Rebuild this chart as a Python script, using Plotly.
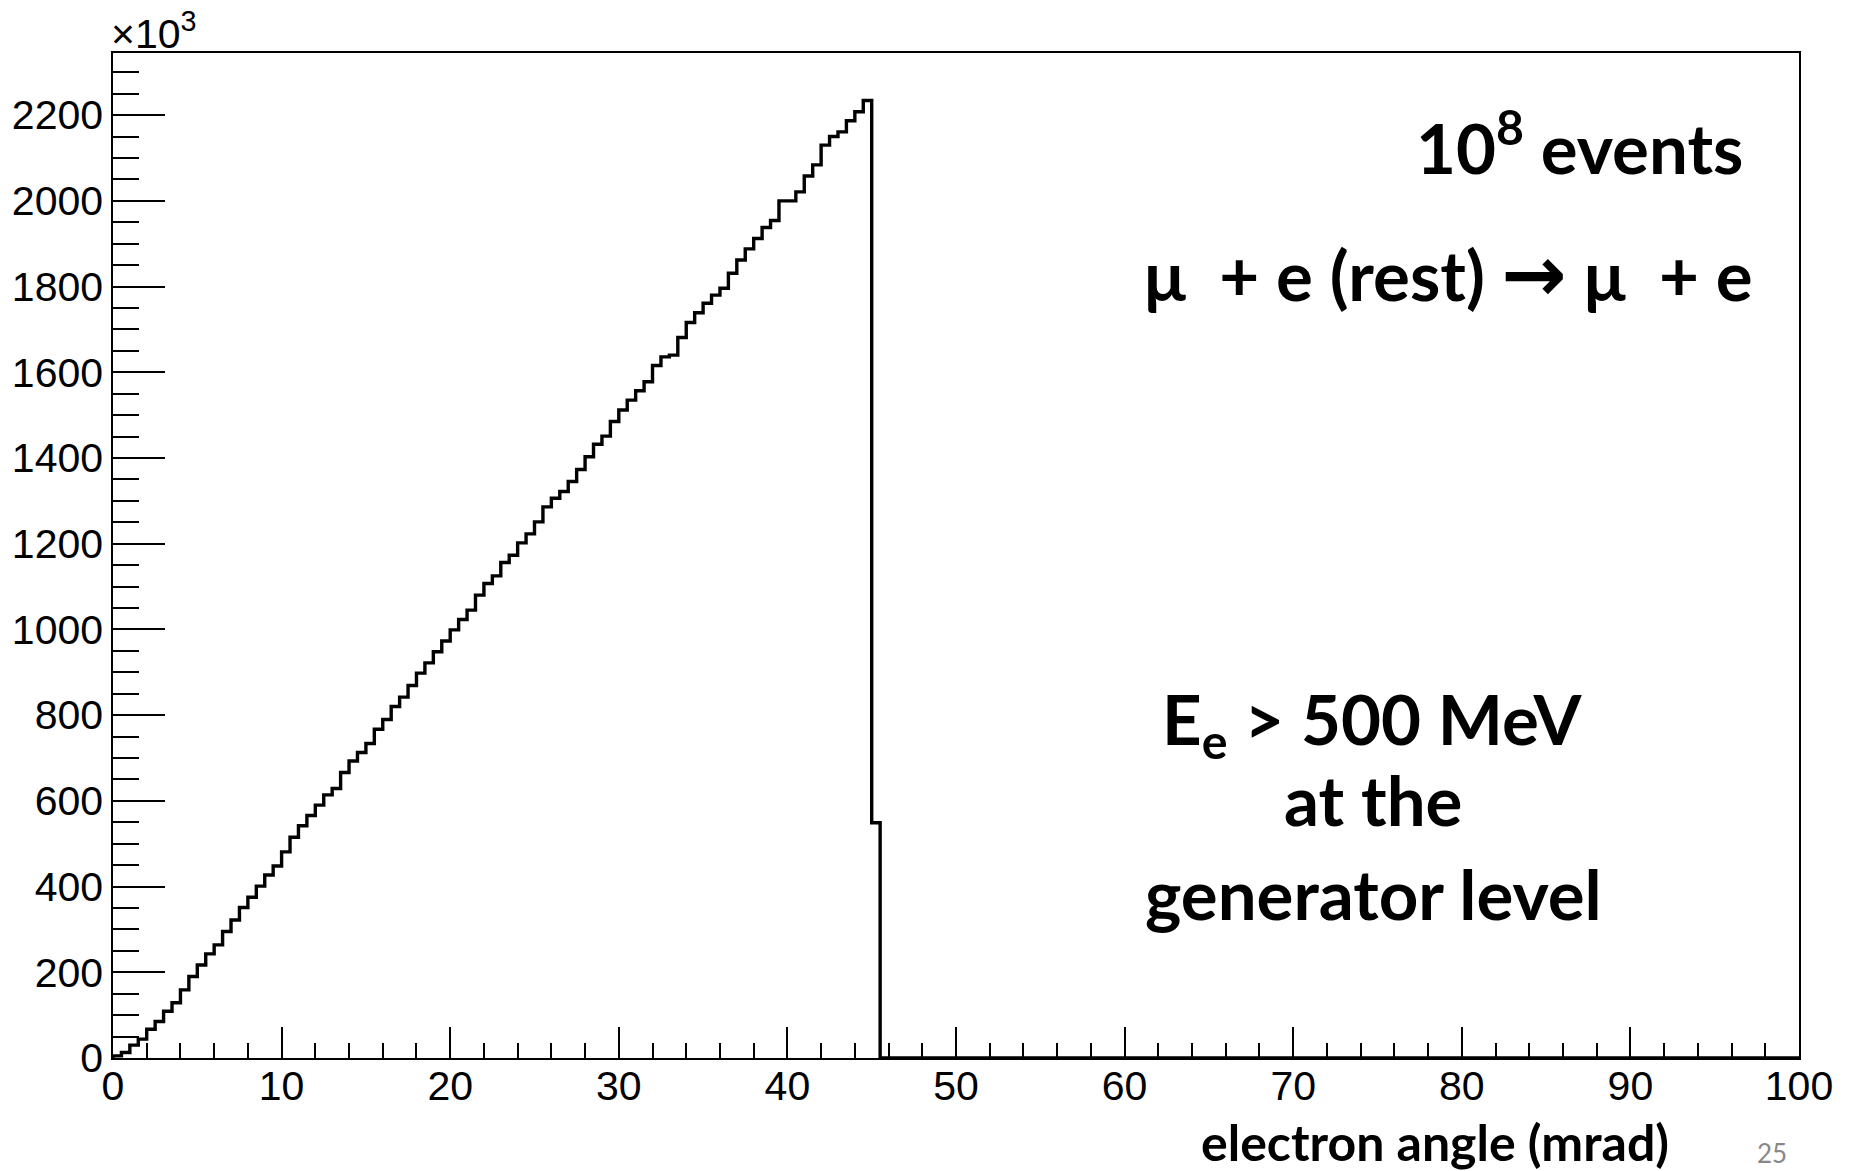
import plotly.graph_objects as go

# Histogram: electron angle (mrad), 200 bins of 0.5 mrad over 0-100, counts in units of 10^3
bin_width = 0.5
x_min, x_max = 0.0, 100.0
counts_k = [
    5, 13, 30, 44, 67, 85, 109, 129, 159, 190, 217, 243, 264, 295, 322, 351,
    375, 401, 427, 448, 481, 515, 542, 566,
    590, 614, 629, 666, 693, 713, 734, 767, 790, 820, 842, 869, 898, 922,
    948, 973, 999, 1023, 1045, 1080, 1107, 1125,
    1156, 1173, 1202, 1223, 1251, 1286, 1306, 1322, 1345, 1373, 1403, 1432,
    1451, 1485, 1512, 1535, 1557, 1578, 1616, 1636, 1640, 1681,
    1716, 1739, 1761, 1780, 1796, 1831, 1862, 1888, 1912, 1938, 1954, 2000,
    2000, 2021, 2058, 2084, 2130, 2150, 2161, 2187, 2208, 2234,
    549,
]
n_bins = 200
empty_bins = [0] * (n_bins - len(counts_k))
values = counts_k + empty_bins

y_ticks = list(range(0, 2201, 200))
x_ticks = list(range(0, 101, 10))

left_edges = [x_min + i * bin_width for i in range(n_bins)]
xs = [x_min] + left_edges + [x_max]
ys = [0] + values + [values[-1]]

fig = go.Figure()
fig.add_trace(go.Scatter(
    x=xs, y=ys, mode="lines", line=dict(shape="hv", color="black", width=3.4),
    hoverinfo="skip", showlegend=False,
))

tick_font = dict(family="Liberation Sans, Arial, sans-serif", size=41, color="black")
txt_font = dict(family="Lato, sans-serif", size=69, color="black", weight="bold")

W0, H0 = 113, 1058
PW, PH = 1686, 1005


def px(x):
    return (x - W0) / PW


def py(y):
    return (H0 - y) / PH


arrow = "<span style=\"font-family:'DejaVu Sans';font-weight:bold;font-size:78px\">→</span>"

fig.update_layout(
    width=1850, height=1171,
    margin=dict(l=113, r=51, t=53, b=113),
    paper_bgcolor="white", plot_bgcolor="white",
    xaxis=dict(
        range=[x_min, x_max], tickmode="array", tickvals=x_ticks,
        ticks="inside", ticklen=31, tickwidth=1.5, tickcolor="black",
        minor=dict(dtick=2, ticks="inside", ticklen=15, tickwidth=1.5, tickcolor="black"),
        showline=True, mirror=True, linecolor="black", linewidth=1.5,
        showgrid=False, zeroline=False, tickfont=tick_font, ticklabelstandoff=-9,
    ),
    yaxis=dict(
        range=[0, 2345], tickmode="array", tickvals=y_ticks,
        ticks="inside", ticklen=52, tickwidth=1.5, tickcolor="black",
        minor=dict(dtick=50, ticks="inside", ticklen=26, tickwidth=1.5, tickcolor="black"),
        showline=True, mirror=True, linecolor="black", linewidth=1.5,
        showgrid=False, zeroline=False, tickfont=tick_font,
    ),
    annotations=[
        dict(text="×10<sup>3</sup>", xref="paper", yref="paper", x=0, y=1.0,
             xanchor="left", yanchor="bottom", showarrow=False, font=tick_font,
             xshift=-4, yshift=-6),
        dict(text="10<sup>8</sup> events", xref="paper", yref="paper",
             x=px(1579), y=py(143), xanchor="center", yanchor="middle",
             showarrow=False, font=txt_font),
        dict(text="μ\u00a0\u00a0+ e (rest) " + arrow + " μ\u00a0\u00a0+ e",
             xref="paper", yref="paper",
             x=px(1448), y=py(274), xanchor="center", yanchor="middle",
             showarrow=False, font=txt_font),
        dict(text="E<sub>e</sub> > 500 MeV", xref="paper", yref="paper",
             x=px(1372), y=py(723), xanchor="center", yanchor="middle",
             showarrow=False, font=txt_font),
        dict(text="at the", xref="paper", yref="paper",
             x=px(1373), y=py(799), xanchor="center", yanchor="middle",
             showarrow=False, font=txt_font),
        dict(text="generator level", xref="paper", yref="paper",
             x=px(1373), y=py(893), xanchor="center", yanchor="middle",
             showarrow=False, font=txt_font),
        dict(text="electron angle (mrad)", xref="paper", yref="paper",
             x=px(1435), y=py(1142), xanchor="center", yanchor="middle",
             showarrow=False, font=dict(family="Lato, sans-serif", size=50, color="black", weight="bold")),
        dict(text="25", xref="paper", yref="paper",
             x=px(1772), y=py(1153), xanchor="center", yanchor="middle",
             showarrow=False, font=dict(family="Lato, sans-serif", size=26, color="#888888")),
    ],
)

fig.write_html("out.html")
